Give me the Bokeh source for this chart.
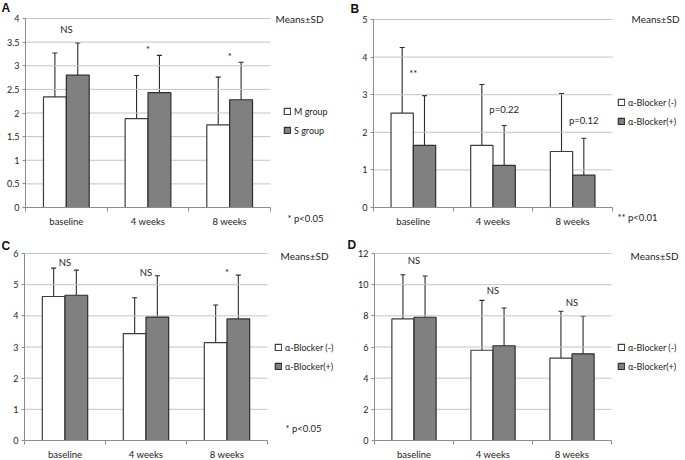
import numpy as np
from bokeh.plotting import figure
from bokeh.models import (ColumnDataSource, Range1d, FixedTicker, NumeralTickFormatter, LinearAxis,
                          CustomJSTickFormatter, Whisker, TeeHead, Legend, LegendItem, Label)
from bokeh.layouts import row, column
from bokeh.embed import file_html
from bokeh.resources import INLINE

categories = ["baseline", "4 weeks", "8 weeks"]

# Panel A
a_series = ["M group", "S group"]
a_mean_1 = [2.34, 1.88, 1.75]
a_sd_1 = [0.93, 0.915, 1.01]
a_mean_2 = [2.80, 2.43, 2.28]
a_sd_2 = [0.685, 0.79, 0.795]
a_yticks = [0, 0.5, 1, 1.5, 2, 2.5, 3, 3.5, 4]
a_notes = [("baseline", 0.0, 3.77, "NS"), ("4 weeks", 0.0, 3.35, "*"), ("8 weeks", 0.0, 3.19, "*")]
a_pnote = "* p<0.05"

# Panel B
b_series = ["\u03b1-Blocker (-)", "\u03b1-Blocker(+)"]
b_mean_1 = [2.51, 1.65, 1.49]
b_sd_1 = [1.745, 1.62, 1.54]
b_mean_2 = [1.65, 1.12, 0.86]
b_sd_2 = [1.325, 1.06, 0.98]
b_yticks = [0, 1, 2, 3, 4, 5]
b_notes = [("baseline", 0.0, 3.56, "**"), ("4 weeks", 0.14, 2.60, "p=0.22"), ("8 weeks", 0.14, 2.31, "p=0.12")]
b_pnote = "** p<0.01"

# Panel C
c_series = ["\u03b1-Blocker (-)", "\u03b1-Blocker(+)"]
c_mean_1 = [4.62, 3.43, 3.14]
c_sd_1 = [0.91, 1.15, 1.21]
c_mean_2 = [4.66, 3.96, 3.90]
c_sd_2 = [0.805, 1.325, 1.405]
c_yticks = [0, 1, 2, 3, 4, 5, 6]
c_notes = [("baseline", 0.0, 5.72, "NS"), ("4 weeks", 0.0, 5.38, "NS"), ("8 weeks", 0.0, 5.40, "*")]
c_pnote = "* p<0.05"

# Panel D
d_series = ["\u03b1-Blocker (-)", "\u03b1-Blocker(+)"]
d_mean_1 = [7.80, 5.79, 5.29]
d_sd_1 = [2.84, 3.205, 3.00]
d_mean_2 = [7.91, 6.08, 5.56]
d_sd_2 = [2.645, 2.425, 2.41]
d_yticks = [0, 2, 4, 6, 8, 10, 12]
d_notes = [("baseline", 0.0, 11.58, "NS"), ("4 weeks", 0.0, 9.62, "NS"), ("8 weeks", 0.0, 8.84, "NS")]
d_pnote = None

FONT = "Lato"
TXT = "#222222"
AXC = "#8c8c8c"
GRC = "#c4c4c4"
BARW = 0.28


def panel(letter, series, m1, s1, m2, s2, yticks, notes, pnote, fmt,
          W, H, L, R, T, B, letter_xy, means_xy, leg_xy, pnote_xy):
    ncat = len(categories)
    ymax = yticks[-1]
    ux = (R - L) / ncat
    uy = (B - T) / ymax
    FR = 2  # small right border so the frame does not touch the canvas edge
    xr = Range1d(-L / ux, (W - FR - L) / ux)
    yr = Range1d(-(H - B) / uy, ymax + T / uy)
    p = figure(width=W, height=H, x_range=xr, y_range=yr, output_backend="svg",
               toolbar_location=None, min_border=0, min_border_right=FR,
               x_axis_location=None, y_axis_location=None)
    p.outline_line_color = None
    p.outline_line_alpha = 0
    p.background_fill_color = "white"
    p.border_fill_color = "white"
    for g in list(p.xgrid) + list(p.ygrid):
        g.visible = False

    yax = LinearAxis(fixed_location=0, bounds=(0, ymax),
                     ticker=FixedTicker(ticks=yticks, minor_ticks=[]),
                     formatter=NumeralTickFormatter(format=fmt))
    xax = LinearAxis(fixed_location=0, bounds=(0, ncat),
                     ticker=FixedTicker(ticks=list(np.arange(ncat) + 0.5),
                                        minor_ticks=list(range(ncat + 1))),
                     formatter=CustomJSTickFormatter(args=dict(cats=categories),
                                                     code="const i = Math.floor(tick); return (i >= 0 && i < cats.length) ? cats[i] : '';"))
    for ax in (xax, yax):
        ax.axis_line_color = AXC
        ax.major_label_text_font = FONT
        ax.major_label_text_color = TXT
    yax.major_label_text_font_size = "9px"
    yax.major_tick_line_color = AXC
    yax.major_tick_out = 3
    yax.major_tick_in = 0
    yax.minor_tick_line_color = None
    yax.major_label_standoff = 3
    xax.major_label_text_font_size = "9.5px"
    xax.major_tick_line_color = None
    xax.minor_tick_line_color = AXC
    xax.minor_tick_out = 4
    xax.minor_tick_in = 0
    xax.major_label_standoff = 2
    p.add_layout(yax, "left")
    p.add_layout(xax, "below")

    gsrc = ColumnDataSource(dict(y=[t for t in yticks if t > 0]))
    p.segment(x0=0, x1=ncat, y0="y", y1="y", source=gsrc, line_color=GRC, line_width=1)

    m1 = np.array(m1); s1 = np.array(s1); m2 = np.array(m2); s2 = np.array(s2)
    xc = np.arange(ncat) + 0.5
    src = ColumnDataSource(dict(x1=xc - BARW / 2, x2=xc + BARW / 2, m1=m1, m2=m2,
                                up1=m1 + s1, lo1=np.maximum(m1 - s1, 0),
                                up2=m2 + s2, lo2=np.maximum(m2 - s2, 0)))
    r1 = p.vbar(x="x1", top="m1", width=BARW, source=src,
                fill_color="white", line_color="#3c3c3c", line_width=1.2)
    r2 = p.vbar(x="x2", top="m2", width=BARW, source=src,
                fill_color="#808080", line_color="#2e2e2e", line_width=1.2)
    for base, up, lo in (("x1", "up1", "lo1"), ("x2", "up2", "lo2")):
        w = Whisker(source=src, base=base, upper=up, lower=lo,
                    line_color="#2a2a2a", line_width=1.1,
                    upper_head=TeeHead(size=5, line_color="#2a2a2a", line_width=1.1),
                    lower_head=TeeHead(size=5, line_color="#2a2a2a", line_width=1.1))
        p.add_layout(w)

    for cat, off, yv, t in notes:
        p.add_layout(Label(x=categories.index(cat) + 0.5 + off, y=yv, text=t,
                           text_align="center", text_baseline="middle", text_font=FONT,
                           text_font_size="9.5px", text_color=TXT))

    legend = Legend(items=[LegendItem(label=series[0], renderers=[r1]),
                           LegendItem(label=series[1], renderers=[r2])],
                    location=leg_xy, orientation="vertical")
    legend.background_fill_alpha = 0
    legend.border_line_color = None
    legend.padding = 0
    legend.margin = 0
    legend.spacing = 7
    legend.label_height = 12
    legend.glyph_height = 8
    legend.glyph_width = 8
    legend.label_standoff = 3
    legend.label_text_font = FONT
    legend.label_text_font_size = "9px"
    legend.label_text_color = TXT
    p.add_layout(legend)

    p.add_layout(Label(x=means_xy[0], y=means_xy[1], x_units="screen", y_units="screen",
                       text="Means\u00b1SD", text_font=FONT, text_font_size="10px",
                       text_color=TXT, text_baseline="middle"))
    if pnote:
        p.add_layout(Label(x=pnote_xy[0], y=pnote_xy[1], x_units="screen", y_units="screen",
                           text=pnote, text_font=FONT, text_font_size="9.5px",
                           text_color=TXT, text_baseline="middle"))
    p.add_layout(Label(x=letter_xy[0], y=letter_xy[1], x_units="screen", y_units="screen",
                       text=letter, text_font="Liberation Sans", text_font_style="bold",
                       text_font_size="12px", text_color="#111111", text_baseline="top"))
    return p


pa = panel("A", a_series, a_mean_1, a_sd_1, a_mean_2, a_sd_2, a_yticks, a_notes, a_pnote, "0.[0]",
           342, 230, 25, 270, 18, 207, (1, 230), (275, 212), (283, 94), (287, 12))
pb = panel("B", b_series, b_mean_1, b_sd_1, b_mean_2, b_sd_2, b_yticks, b_notes, b_pnote, "0",
           343, 230, 31, 270, 19, 207, (8, 229), (289, 212), (275, 103), (275, 13))
pc = panel("C", c_series, c_mean_1, c_sd_1, c_mean_2, c_sd_2, c_yticks, c_notes, c_pnote, "0",
           342, 230, 24, 267, 23, 210, (1, 222), (280, 205), (274, 88), (285, 32))
pd = panel("D", d_series, d_mean_1, d_sd_1, d_mean_2, d_sd_2, d_yticks, d_notes, d_pnote, "0",
           343, 230, 32, 269, 23, 210, (5, 223), (288, 205), (275, 88), (0, 0))

p = column(row(pa, pb), row(pc, pd))
open("out.html", "w").write(file_html(p, INLINE))
